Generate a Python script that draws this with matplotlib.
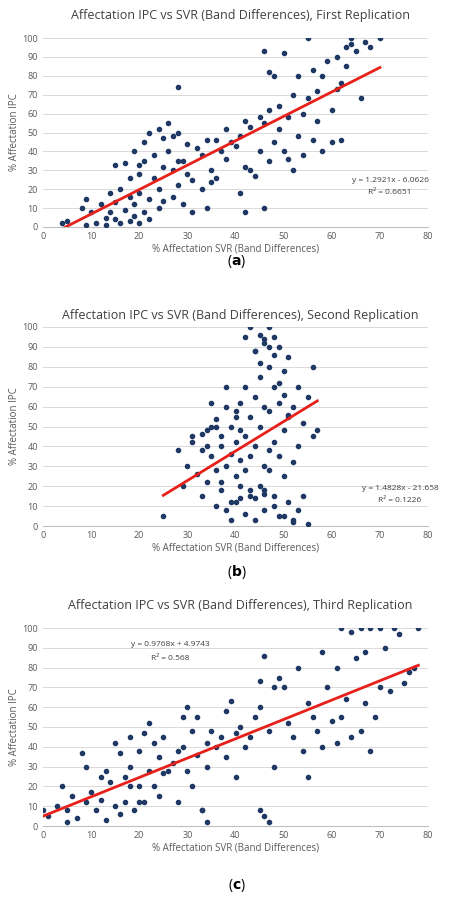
import matplotlib
matplotlib.use("Agg")
import matplotlib.pyplot as plt
import numpy as np

# Panel (a) data
a_x = [4,5,8,9,9,10,11,12,13,13,14,14,15,15,15,16,16,17,17,18,18,18,19,19,19,20,20,20,21,21,21,22,22,22,23,23,24,24,24,25,25,25,26,26,27,27,27,28,28,28,29,29,30,30,31,31,32,33,33,34,34,35,35,36,36,37,38,38,39,40,41,41,42,42,43,43,44,45,45,46,46,47,47,48,48,49,49,50,50,51,51,52,52,53,53,54,54,55,55,56,56,57,57,58,58,59,60,60,61,61,62,62,63,63,64,64,65,66,67,68,70,46,47,42,20,28]
a_y = [2,3,10,15,1,8,2,12,5,1,18,8,33,4,13,20,2,34,9,16,3,26,40,12,6,28,18,2,35,8,45,50,15,4,26,38,52,20,10,47,32,14,40,55,30,48,16,50,22,74,35,12,44,28,25,8,42,38,20,46,10,30,24,46,26,40,52,36,45,43,48,18,56,32,30,53,27,58,40,55,10,62,35,45,80,52,64,40,92,36,58,70,30,80,48,60,38,68,100,46,83,56,72,80,40,88,62,45,90,73,76,46,85,95,100,97,93,68,98,95,100,93,82,8,33,35]
a_coef = [1.2921, -6.0626]
a_eq = ["y = 1.2921x - 6.0626", "R² = 0.6651"]

# Panel (b) data
b_x = [25,28,29,30,31,31,32,33,33,34,34,35,35,36,36,36,37,37,37,38,38,38,39,39,39,40,40,40,40,41,41,41,41,42,42,42,42,43,43,43,43,44,44,44,44,45,45,45,45,46,46,46,46,47,47,47,47,48,48,48,48,49,49,49,49,50,50,50,51,51,51,52,52,52,53,53,53,54,54,55,55,56,56,57,44,46,48,50,42,40,38,36,34,45,47,49,51,43,41,39,37,35,33,46,48,50,52,44,46,47]
b_y = [5,38,20,30,42,45,26,15,38,22,48,35,50,10,28,54,40,18,45,30,60,8,50,36,3,25,55,42,12,33,62,20,48,6,45,70,28,100,55,35,15,88,65,40,3,96,75,50,20,92,60,30,8,100,80,58,38,95,70,42,15,90,62,35,5,78,48,25,85,55,12,60,32,3,70,40,8,52,15,65,1,45,80,48,88,94,86,66,95,58,70,50,40,82,90,72,56,18,14,12,22,62,46,16,10,5,2,14,18,28]
b_coef = [1.4828, -21.658]
b_eq = ["y = 1.4828x - 21.658", "R² = 0.1226"]

# Panel (c) data
c_x = [0,1,3,4,5,5,6,7,8,9,9,10,11,12,13,13,14,15,15,16,16,17,17,18,18,19,20,20,21,21,22,22,23,23,24,24,25,26,27,28,29,29,30,30,31,31,32,32,33,34,34,35,36,37,38,38,39,40,40,41,42,43,44,45,45,46,47,48,48,49,50,51,52,53,54,55,55,56,57,58,58,59,60,61,61,62,62,63,64,64,65,66,66,67,67,68,68,69,70,70,71,72,73,74,75,76,77,78,45,46,47,33,34,28,25,20,18,12]
c_y = [8,5,10,20,2,8,15,4,37,12,30,17,8,13,28,3,22,10,42,37,6,25,12,45,30,8,20,38,47,12,52,28,42,20,35,15,45,28,32,12,55,40,28,60,20,48,36,55,8,42,30,48,40,45,58,35,63,47,25,50,40,45,55,73,60,86,48,70,30,75,70,52,45,80,38,62,25,55,48,88,40,70,53,42,80,100,55,64,98,45,85,48,100,62,88,38,100,55,70,100,90,68,100,97,72,78,80,100,8,5,2,8,2,38,27,12,20,25]
c_coef = [0.9768, 4.9743]
c_eq = ["y = 0.9768x + 4.9743", "R² = 0.568"]

W, H = 474, 901
fig = plt.figure(figsize=(W/100, H/100), dpi=100)
plt.rcParams['font.family'] = ['Open Sans', 'DejaVu Sans']

panels = [
    (a_x, a_y, a_coef, a_eq, "Affectation IPC vs SVR (Band Differences), First Replication", (38, 227), 15, 262, "a", (390, 180)),
    (b_x, b_y, b_coef, b_eq, "Affectation IPC vs SVR (Band Differences), Second Replication", (327, 526), 316, 572, "b", (400, 488)),
    (c_x, c_y, c_coef, c_eq, "Affectation IPC vs SVR (Band Differences), Third Replication", (628, 826), 605, 885, "c", (170, 645)),
]
left, right = 43, 428
for xs, ys, coef, eq, title, (top, bot), ty, ly, lab, (ex, ey) in panels:
    ax = fig.add_axes([left/W, 1-bot/H, (right-left)/W, (bot-top)/H])
    ax.scatter(xs, ys, s=9, color='#1F3864', zorder=3)
    xr = np.array([min(xs), max(xs)])
    ax.plot(xr, coef[0]*xr + coef[1], color='#E8201A', lw=2, zorder=4)
    ax.set_xlim(0, 80); ax.set_ylim(0, 100)
    ax.set_xticks(range(0, 81, 10)); ax.set_yticks(range(0, 101, 10))
    ax.tick_params(labelsize=6.5, length=0, colors='#595959')
    ax.grid(axis='y', color='#D9D9D9', lw=0.7)
    for s in ['top', 'right', 'left']:
        ax.spines[s].set_visible(False)
    ax.spines['bottom'].set_color('#BFBFBF')
    ax.set_xlabel("% Affectation SVR (Band Differences)", fontsize=7, color='#595959', labelpad=2)
    ax.set_ylabel("% Affectation IPC", fontsize=7, color='#595959', labelpad=2)
    fig.text(240/W, 1-ty/H, title, ha='center', va='center', fontsize=9, color='#404040')
    fig.text(237/W, 1-ly/H, "(" + r"$\mathbf{" + lab + "}$" + ")", ha='center', va='center', fontsize=10, color='black')
    fig.text(ex/W, 1-ey/H, eq[0], ha='center', va='center', fontsize=6, color='#404040')
    fig.text(ex/W, 1-(ey+13)/H, eq[1], ha='center', va='center', fontsize=6, color='#404040')

fig.savefig("out.png", dpi=100)
